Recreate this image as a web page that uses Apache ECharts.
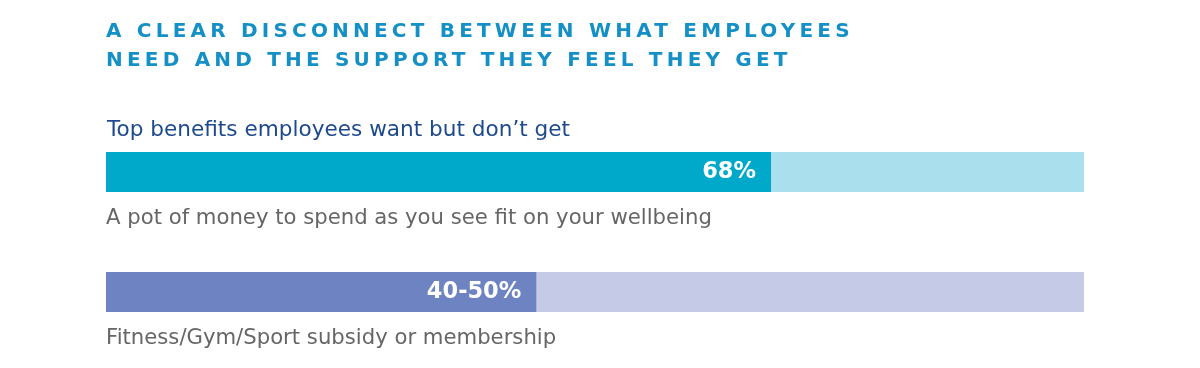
<!DOCTYPE html>
<html>
<head>
<meta charset="utf-8">
<script src="https://cdn.jsdelivr.net/npm/echarts@6/dist/echarts.min.js"></script>
<style>
html,body{margin:0;padding:0;background:#fff;}
#wrap{position:relative;width:1200px;height:368px;}
#chart{position:absolute;left:0;top:0;width:1200px;height:368px;}
#title{position:absolute;left:106px;top:16px;font-family:"DejaVu Sans",sans-serif;font-weight:700;font-size:20px;line-height:29px;letter-spacing:4.2px;color:#1590c6;white-space:nowrap;z-index:2;}
</style>
</head>
<body>
<div id="wrap">
<div id="chart"></div>
<div id="title">A CLEAR DISCONNECT BETWEEN WHAT EMPLOYEES<br>NEED AND THE SUPPORT THEY FEEL THEY GET</div>
</div>
<script>
const subtitle = 'Top benefits employees want but don\u2019t get';
const categories = ['A pot of money to spend as you see fit on your wellbeing', 'Fitness/Gym/Sport subsidy or membership'];
const values = [68, 44];
const valueLabels = ['68%', '40-50%'];
const trackMax = 100;

const fillColors = ['#00a8ca', '#6e84c2'];
const trackColors = ['#aadfed', '#c5cae7'];

const chart = echarts.init(document.getElementById('chart'), null, {renderer: 'canvas'});
chart.setOption({
  animation: false,
  title: {
    text: subtitle,
    left: 102,
    top: 114,
    textStyle: {fontFamily: 'DejaVu Sans', fontSize: 21.6, fontWeight: 400, color: '#1d4a8c'}
  },
  grid: {left: 106, right: 116, top: 112, height: 240},
  xAxis: {type: 'value', min: 0, max: trackMax, show: false},
  yAxis: {type: 'category', data: categories, inverse: true, show: false},
  series: [
    {
      type: 'bar',
      barWidth: 40,
      barGap: '-100%',
      silent: true,
      data: categories.map((c, i) => ({value: trackMax, itemStyle: {color: trackColors[i]}})),
      label: {
        show: true,
        position: [0, 66],
        align: 'left',
        verticalAlign: 'middle',
        formatter: p => categories[p.dataIndex],
        fontFamily: 'DejaVu Sans',
        fontSize: 21.2,
        color: '#666666'
      },
      z: 1
    },
    {
      type: 'bar',
      barWidth: 40,
      barGap: '-100%',
      silent: true,
      data: values.map((v, i) => ({value: v, itemStyle: {color: fillColors[i]}})),
      label: {
        show: true,
        position: 'insideRight',
        distance: 15,
        formatter: p => valueLabels[p.dataIndex],
        fontFamily: 'DejaVu Sans',
        fontSize: 22.5,
        fontWeight: 700,
        color: '#ffffff'
      },
      z: 2
    }
  ]
});
</script>
</body>
</html>
